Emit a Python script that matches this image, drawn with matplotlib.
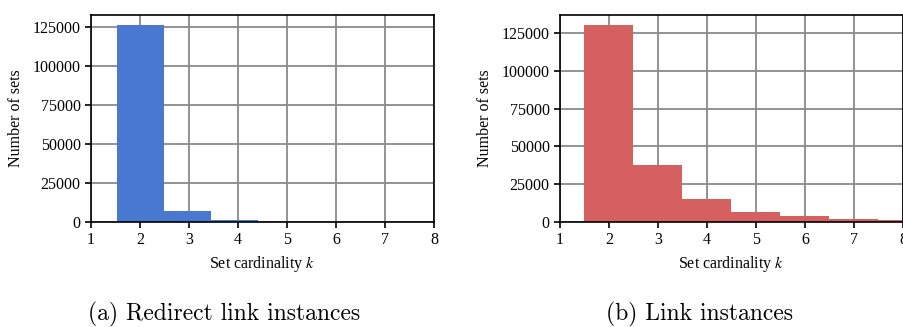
import matplotlib
matplotlib.use('Agg')
import matplotlib.pyplot as plt
import numpy as np

# data (histogram bins and counts)
edges_redirect = [1.53, 2.49, 3.45, 4.40, 5.35, 6.31]
counts_redirect = [126300, 7000, 1200, 300, 200]
edges_link = [1.5, 2.5, 3.5, 4.5, 5.5, 6.5, 7.5, 8.5]
counts_link = [130500, 37700, 15000, 6600, 4000, 2000, 1300]
xticks = [1, 2, 3, 4, 5, 6, 7, 8]
yticks = [0, 25000, 50000, 75000, 100000, 125000]
captions = ['(a) Redirect link instances', '(b) Link instances']

plt.rcParams['font.family'] = ['Liberation Serif', 'DejaVu Serif']
plt.rcParams['mathtext.fontset'] = 'stix'
plt.rcParams['font.size'] = 11.5

fig = plt.figure(figsize=(9.04, 3.27), dpi=100)
W, H = 904, 327
ax1 = fig.add_axes([91 / W, 105 / H, 343 / W, 207 / H])
ax2 = fig.add_axes([560 / W, 105 / H, 343 / W, 207 / H])


def draw(ax, edges, counts, color):
    edges = np.array(edges)
    ax.bar(edges[:-1], counts, width=np.diff(edges), align='edge',
           color=color, linewidth=0, zorder=3)
    ax.set_xlim(1, 8)
    ax.set_xticks(xticks)
    ax.set_yticks(yticks)
    ax.set_ylim(0, max(counts) * 1.05)
    ax.grid(True, color='#8a8a8a', linewidth=1.3, zorder=0)
    ax.set_axisbelow(True)
    for s in ax.spines.values():
        s.set_linewidth(1.2)
        s.set_color('black')
        s.set_zorder(4)
    ax.tick_params(direction='out', length=4, width=1.2, colors='black')
    ax.set_xlabel('Set cardinality $k$', labelpad=4)
    ax.set_ylabel('Number of sets', labelpad=6)


draw(ax1, edges_redirect, counts_redirect, '#4878cf')
draw(ax2, edges_link, counts_link, '#d65f5f')

fig.text(224 / W, 7 / H, captions[0], family='cmr10', fontsize=17,
         ha='center', va='baseline')
fig.text(700 / W, 7 / H, captions[1], family='cmr10', fontsize=17,
         ha='center', va='baseline')

fig.savefig('out.png', dpi=100)
